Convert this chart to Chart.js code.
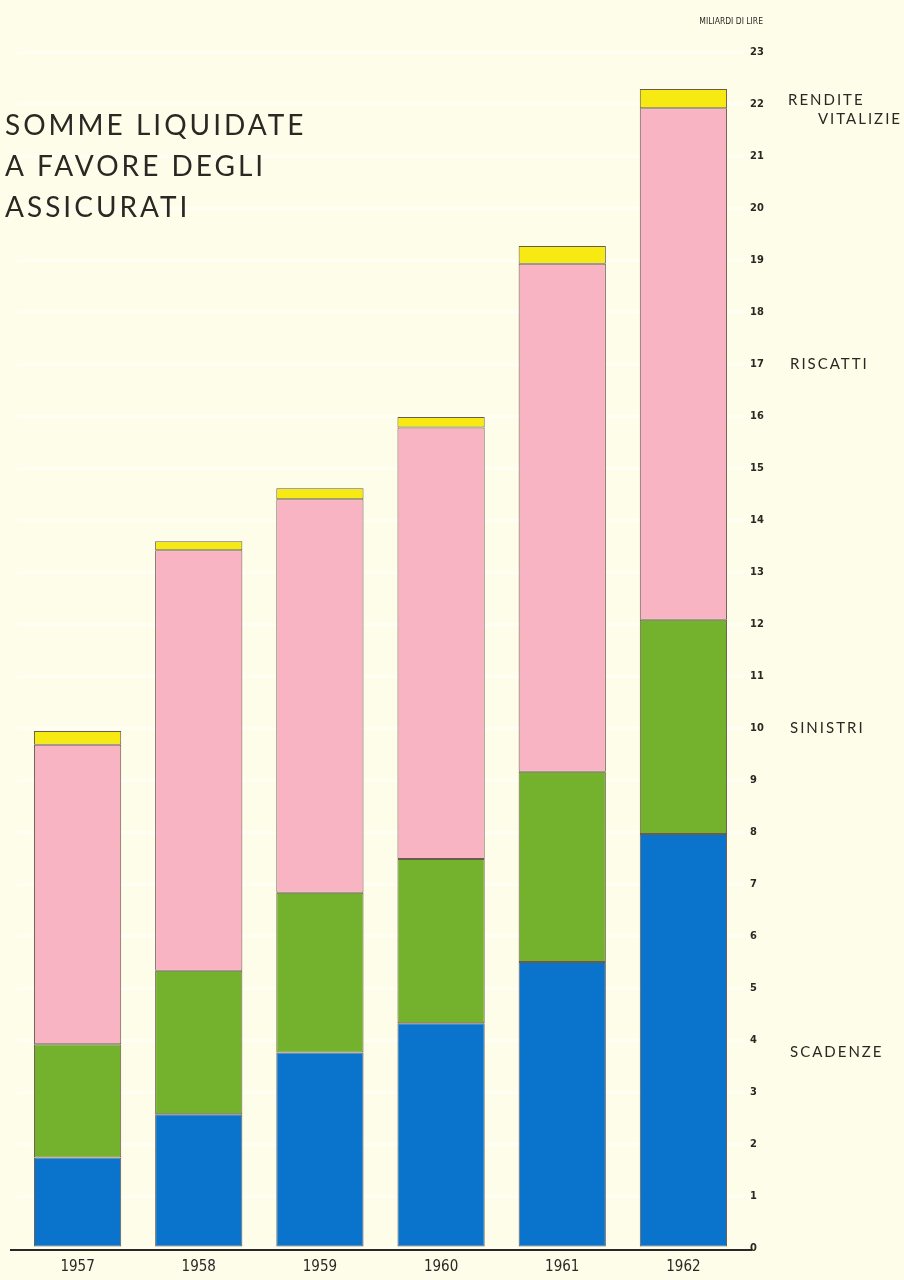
<!DOCTYPE html>
<html>
<head>
<meta charset="utf-8">
<script src="https://cdn.jsdelivr.net/npm/chart.js@4.4.1/dist/chart.umd.min.js"></script>
<style>
  html, body { margin: 0; padding: 0; background: #fefde9; overflow: hidden; }
  #wrap { width: 904px; height: 1280px; position: relative; }
  canvas { display: block; }
</style>
</head>
<body>
<div id="wrap"><canvas id="myChart" width="904" height="1280"></canvas></div>
<script>
'use strict';

// Years on the x axis
let years = ['1957', '1958', '1959', '1960', '1961', '1962'];

// Miliardi di lire (stacked from the bottom)
let scadenze = [1.74, 2.57, 3.76, 4.32, 5.50, 7.96];
let sinistri = [2.18, 2.76, 3.07, 3.16, 3.66, 4.12];
let riscatti = [5.76, 8.09, 7.57, 8.30, 9.77, 9.84];
let rendite = [0.26, 0.17, 0.21, 0.20, 0.34, 0.37];

let yMax = 23;
let titleLines = ['SOMME LIQUIDATE', 'A FAVORE DEGLI', 'ASSICURATI'];
let unitLabel = 'MILIARDI DI LIRE';

// series names written beside the axis, at the value they sit next to
let seriesNames = [['SCADENZE'], ['SINISTRI'], ['RISCATTI'], ['RENDITE', 'VITALIZIE']];
let seriesNameValues = [3.76, 10, 17, 22];

const ink = '#2b2824';
const edge = 'rgba(70, 50, 40, 0.8)';

// extra text + the baseline
const decorations = {
  id: 'decorations',
  afterDraw(chart) {
    const ctx = chart.ctx;
    const y = chart.scales.y;
    const area = chart.chartArea;
    ctx.save();

    // baseline
    ctx.strokeStyle = ink;
    ctx.lineWidth = 2;
    ctx.beginPath();
    ctx.moveTo(10, area.bottom + 2);
    ctx.lineTo(752, area.bottom + 2);
    ctx.stroke();

    // title
    ctx.fillStyle = ink;
    ctx.font = '28px Lato';
    ctx.letterSpacing = '3px';
    ctx.textBaseline = 'alphabetic';
    ctx.textAlign = 'left';
    for (let i = 0; i < titleLines.length; i++) {
      ctx.fillText(titleLines[i], 5, 135 + i * 41);
    }

    // unit above the axis
    ctx.letterSpacing = '0px';
    ctx.font = '8.5px "DejaVu Sans Condensed"';
    ctx.textAlign = 'right';
    ctx.textBaseline = 'middle';
    ctx.fillText(unitLabel, 763, 22);

    // series names
    ctx.font = '15px Lato';
    ctx.letterSpacing = '2px';
    for (let i = 0; i < seriesNames.length; i++) {
      let py = y.getPixelForValue(seriesNameValues[i]);
      let lines = seriesNames[i];
      if (lines.length === 1) {
        ctx.textAlign = 'left';
        ctx.fillText(lines[0], 790, py);
      } else {
        ctx.textAlign = 'left';
        ctx.fillText(lines[0], 788, py - 4);
        ctx.textAlign = 'right';
        ctx.fillText(lines[1], 902, py + 15);
      }
    }
    ctx.restore();
  }
};

function makeSet(label, data, color) {
  return {
    label: label,
    data: data,
    backgroundColor: color,
    borderColor: edge,
    borderWidth: 1,
    borderSkipped: false,
    barPercentage: 0.72,
    categoryPercentage: 1.0
  };
}

const ctx = document.getElementById('myChart').getContext('2d');

let options = {
  type: 'bar',
  data: {
    labels: years,
    datasets: [
      makeSet('Scadenze', scadenze, '#0a73cc'),
      makeSet('Sinistri', sinistri, '#74b12c'),
      makeSet('Riscatti', riscatti, '#f9b4c4'),
      makeSet('Rendite vitalizie', rendite, '#f6ea12')
    ]
  },
  options: {
    responsive: false,
    animation: false,
    layout: { padding: { left: 17, right: 0, top: 52, bottom: -6 } },
    plugins: {
      legend: { display: false },
      tooltip: { enabled: false }
    },
    scales: {
      x: {
        stacked: true,
        grid: { display: false, drawTicks: false },
        border: { display: false },
        ticks: {
          color: ink,
          padding: 10,
          font: { family: '"DejaVu Sans Condensed"', size: 15 }
        }
      },
      y: {
        stacked: true,
        position: 'right',
        min: 0,
        max: yMax,
        grid: {
          color: 'rgba(255, 255, 255, 0.5)',
          lineWidth: 3,
          drawTicks: false
        },
        border: { display: false },
        ticks: {
          stepSize: 1,
          color: ink,
          padding: 6,
          font: { family: '"DejaVu Sans Condensed"', size: 11, weight: 'bold' }
        },
        afterFit(axis) { axis.width = 160; }
      }
    }
  },
  plugins: [decorations]
};

const myChart = new Chart(ctx, options);
</script>
</body>
</html>
